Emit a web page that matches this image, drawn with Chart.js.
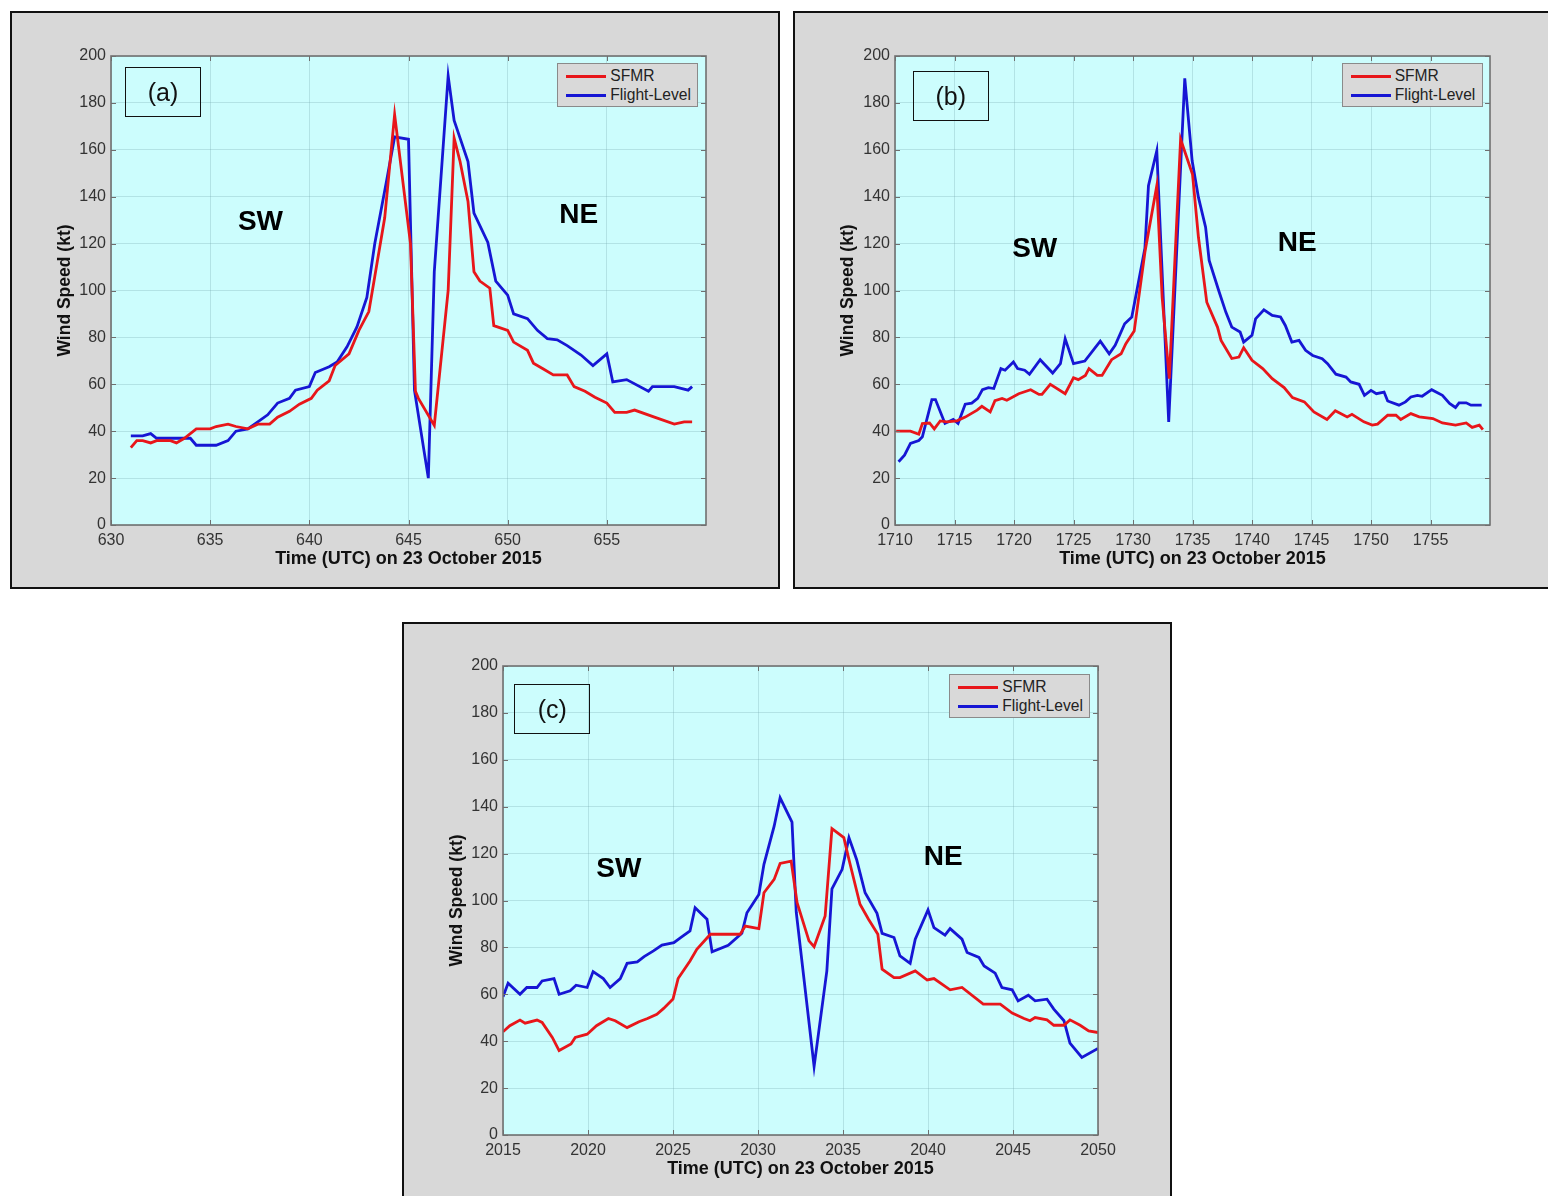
<!DOCTYPE html>
<html><head><meta charset="utf-8">
<script src="https://cdn.jsdelivr.net/npm/chart.js@4.4.1/dist/chart.umd.min.js"></script>
<style>
html,body{margin:0;padding:0;background:#fff;width:1548px;height:1196px;overflow:hidden;font-family:"Liberation Sans",Arial,Helvetica,sans-serif}
.frame{position:absolute;width:770px;height:578px;background:#d8d8d8;border:2px solid #111;box-sizing:border-box}
.cw{position:absolute;width:770px;height:578px}
.tag{position:absolute;border:1px solid #111;width:76px;height:50px;box-sizing:border-box;font-size:25px;text-align:center;line-height:48px;color:#111;z-index:5}
.dir{position:absolute;font-weight:bold;font-size:28px;color:#000;transform:translate(-50%,-50%);z-index:5;white-space:nowrap}
.leg{position:absolute;width:141px;height:44px;background:#d9d9d9;border:1px solid #8a8a8a;box-sizing:border-box;font-size:15.6px;color:#222;z-index:5}
.leg span{position:absolute;left:52px;line-height:18px;white-space:nowrap}
.leg i{position:absolute;left:8px;width:40px;height:3px}
</style></head>
<body>
<script>
// ---------- data ----------
const yTicks = [0,20,40,60,80,100,120,140,160,180,200];
const aXTicks = [630,635,640,645,650,655];
const bXTicks = [1710,1715,1720,1725,1730,1735,1740,1745,1750,1755];
const cXTicks = [2015,2020,2025,2030,2035,2040,2045,2050];

const aSfmrT = [631.0,631.3,631.6,632.0,632.3,633.0,633.3,633.7,634.3,635.0,635.3,635.9,636.3,636.9,637.4,638.0,638.4,639.0,639.5,640.1,640.4,641.0,641.3,642.0,642.5,643.0,643.3,643.8,644.3,645.1,645.35,645.5,646.3,647.0,647.3,647.6,648.0,648.3,648.6,649.1,649.3,650.0,650.3,651.0,651.3,651.8,652.3,653.0,653.35,653.9,654.4,655.0,655.4,656.0,656.4,657.4,658.4,658.9,659.3];
const aSfmrV = [33,36,36,35,36,36,35,37,41,41,42,43,42,41,43,43,46,48.5,51.5,54,57.5,61.5,68,73,83,91,106,131,175,120,57,54,42.5,100,165,155,138,108,104,101,85,83,78,74.5,69,66.5,64,64,59,57,54.5,52,48,48,49,46,43,44,44];
const aFlT = [631.0,631.6,632.0,632.3,634.0,634.3,635.3,635.9,636.3,636.9,637.4,637.9,638.4,639.0,639.3,640.0,640.3,641.0,641.4,641.9,642.4,642.9,643.3,643.9,644.3,645.0,645.3,646.0,646.3,647.0,647.3,648.0,648.3,649.0,649.4,650.0,650.3,651.0,651.5,652.0,652.5,653.0,653.7,654.3,655.0,655.3,656.0,657.1,657.3,658.4,659.1,659.3];
const aFlV = [38,38,39,37,37,34,34,36,40,41,44,47,52,54,57.5,59,65,67.5,69.5,76,84.5,97,120,147,165.5,164.5,57.5,20,108,191.5,172.5,155,133,120.5,104,98,90,88,83,79.5,79,76.5,72.5,68,73,61,62,57,59,59,57.5,59];

const bSfmrT = [1710.1,1711.3,1712.0,1712.3,1712.9,1713.3,1713.8,1714.35,1715.2,1715.9,1716.9,1717.3,1718.0,1718.4,1719.0,1719.4,1720.4,1721.4,1722.1,1722.35,1723.05,1724.3,1725.0,1725.4,1726.0,1726.3,1727.0,1727.4,1728.2,1729.0,1729.4,1730.1,1731.0,1732.0,1732.45,1733.05,1734.0,1735.0,1735.5,1736.2,1737.1,1737.4,1738.3,1738.9,1739.3,1740.0,1740.9,1741.7,1742.7,1743.4,1744.4,1745.2,1746.3,1747.0,1748.0,1748.4,1749.4,1750.1,1750.55,1751.4,1752.1,1752.5,1753.35,1754.05,1755.2,1756.0,1757.1,1758.0,1758.5,1759.1,1759.4];
const bSfmrV = [40,40,38.7,43.3,43.5,41,44.4,44,44.4,46,49,50.6,48.2,53,54,53.2,56,57.7,55.7,55.7,60,56,62.8,62,63.8,66.7,63.8,63.8,70.5,73,77.3,82.7,116.3,144.7,97,62.4,164.5,149.6,122.7,95,84.4,78.7,71,71.6,75.6,70.2,66.7,62.4,58.6,54.3,52.5,48.2,45,48.7,46.1,47.2,44,42.6,43,46.8,46.8,45,47.5,46.1,45.4,43.5,42.6,43.5,41.6,42.6,40.7];
const bFlT = [1710.3,1710.8,1711.3,1712.0,1712.3,1713.1,1713.4,1714.2,1714.9,1715.3,1715.9,1716.45,1716.95,1717.35,1717.85,1718.3,1718.9,1719.25,1719.95,1720.3,1720.9,1721.3,1722.2,1723.25,1723.9,1724.3,1725.0,1725.95,1727.25,1728.0,1728.5,1729.3,1729.9,1731.0,1731.3,1732.0,1733.0,1734.35,1734.97,1735.5,1736.1,1736.4,1737.2,1737.8,1738.3,1739.0,1739.3,1740.0,1740.3,1741.0,1741.7,1742.4,1742.8,1743.35,1743.95,1744.5,1745.1,1745.9,1746.35,1747.05,1747.9,1748.3,1749.0,1749.45,1750.0,1750.45,1751.1,1751.4,1752.35,1752.9,1753.35,1753.9,1754.3,1755.1,1756.0,1756.6,1757.1,1757.4,1758.0,1758.4,1759.3];
const bFlV = [27,29.8,34.8,36,37.6,53.5,53.5,43.3,45,43.3,51.5,52,54,57.7,58.6,58.2,66.7,66,69.5,66.7,66,64.3,70.5,64.8,68.8,79.4,68.8,69.9,78.4,73,76.6,85.8,88.7,118,144.7,159.6,44,190.5,155.3,139.7,127,112.8,100,90.8,84.4,82.3,78,80.9,87.9,91.8,89.4,88.7,85.1,78,78.7,74.5,72.3,70.9,68.8,64.3,63.1,61,60,55.3,57.4,56,56.7,52.9,51.1,52.5,54.6,55.3,54.9,57.7,55.3,51.8,50.1,52.1,52.1,51.1,51.1];

const cSfmrT = [2015.0,2015.4,2016.0,2016.3,2017.0,2017.3,2017.9,2018.3,2019.0,2019.25,2019.95,2020.5,2021.2,2021.6,2022.3,2023.0,2023.5,2024.05,2024.45,2025.0,2025.3,2026.0,2026.4,2027.2,2028.95,2029.25,2030.05,2030.35,2030.95,2031.3,2031.95,2032.3,2033.0,2033.3,2033.95,2034.35,2035.05,2035.35,2036.0,2036.5,2037.05,2037.3,2038.0,2038.35,2039.25,2039.95,2040.35,2041.3,2042.0,2043.25,2044.25,2044.95,2045.65,2046.0,2046.3,2047.0,2047.4,2048.0,2048.35,2048.95,2049.45,2050.0];
const cSfmrV = [44,46.6,49,47.7,49,48,41.6,36,38.8,41.6,43,46.6,49.7,48.7,45.8,48.3,49.7,51.5,54,58,66.7,74.2,79.2,85.6,85.6,89.1,88,103.3,109,115.8,116.8,99.1,82.8,80.3,93.4,130.6,126.8,117.5,98.4,92,85.6,70.7,67.1,67.1,70,66.1,66.7,61.9,62.9,55.8,55.8,52,49.7,48.7,50.1,49.1,46.8,46.8,49.1,46.8,44.4,43.7];
const cFlT = [2015.0,2015.3,2016.0,2016.4,2017.0,2017.3,2018.0,2018.3,2018.95,2019.3,2019.95,2020.3,2020.9,2021.3,2021.9,2022.3,2022.9,2023.3,2023.85,2024.35,2025.05,2025.45,2026.0,2026.3,2027.0,2027.3,2028.25,2029.05,2029.35,2030.05,2030.35,2030.95,2031.3,2032.0,2032.25,2033.3,2034.05,2034.35,2034.95,2035.35,2035.8,2036.3,2037.0,2037.3,2038.0,2038.35,2038.95,2039.25,2040.0,2040.35,2041.0,2041.3,2042.0,2042.3,2043.0,2043.3,2043.95,2044.35,2044.95,2045.3,2045.9,2046.3,2047.0,2047.4,2048.0,2048.35,2049.05,2050.0];
const cFlV = [59,64.7,60,62.9,62.9,65.7,66.7,60,61.5,63.9,62.9,69.7,66.7,62.9,66.7,73.2,73.8,76.1,78.5,81,82,84.2,87,96.9,92,78.1,80.9,86,94.8,102.6,115.4,131.7,143.8,133.4,95,29.2,70,105,113.3,126.8,117.5,103.3,94.5,86,84.2,76.4,73.2,83.5,96,88.4,85.2,88,83.5,77.8,75.7,72.1,69,62.9,61.9,57.2,59.6,57.2,57.9,53.7,48.7,39.2,33.1,36.9];

// ---------- layout / styling ----------
const FONT = '"Liberation Sans", Arial, Helvetica, sans-serif';
const RED = 'rgb(232,22,26)';
const BLUE = 'rgb(22,22,212)';
const GRID = 'rgba(110,160,170,0.28)';
const W = 770, H = 578, PW = 595, PH = 469, XH = 64;

const panels = [
  {label:'(a)', left:10, top:11, padL:101, padT:45, xMin:630, xMax:660, xTicks:aXTicks, sT:aSfmrT, sV:aSfmrV, fT:aFlT, fV:aFlV,
   tag:[125,66.7], sw:[260.5,221], ne:[578.8,213.7], leg:[557.3,63.3]},
  {label:'(b)', left:793, top:11, padL:102, padT:45, xMin:1710, xMax:1760, xTicks:bXTicks, sT:bSfmrT, sV:bSfmrV, fT:bFlT, fV:bFlV,
   tag:[912.7,70.7], sw:[1034.7,247.5], ne:[1297.2,241.5], leg:[1341.7,63.3]},
  {label:'(c)', left:402, top:622, padL:101, padT:44, xMin:2015, xMax:2050, xTicks:cXTicks, sT:cSfmrT, sV:cSfmrV, fT:cFlT, fV:cFlV,
   tag:[514.3,684.3], sw:[618.8,867.5], ne:[943.3,855.8], leg:[949.3,674]}
];

const framePlugin = {
  id: 'plotFrame',
  beforeDraw(chart) {
    const {ctx, chartArea: a} = chart;
    ctx.save();
    ctx.fillStyle = '#ccfdfd';
    ctx.fillRect(a.left, a.top, a.right - a.left, a.bottom - a.top);
    ctx.restore();
  },
  afterDraw(chart) {
    const {ctx, chartArea: a, scales} = chart;
    ctx.save();
    ctx.strokeStyle = '#6f6f6f';
    ctx.lineWidth = 1;
    const L = 5;
    ctx.beginPath();
    scales.x.ticks.forEach(t => {
      const px = Math.round(scales.x.getPixelForValue(t.value)) + 0.5;
      ctx.moveTo(px, a.bottom); ctx.lineTo(px, a.bottom - L);
      ctx.moveTo(px, a.top); ctx.lineTo(px, a.top + L);
    });
    scales.y.ticks.forEach(t => {
      const py = Math.round(scales.y.getPixelForValue(t.value)) + 0.5;
      ctx.moveTo(a.left, py); ctx.lineTo(a.left + L, py);
      ctx.moveTo(a.right, py); ctx.lineTo(a.right - L, py);
    });
    ctx.stroke();
    ctx.strokeStyle = '#707070';
    ctx.lineWidth = 1.6;
    ctx.strokeRect(a.left, a.top, a.right - a.left, a.bottom - a.top);
    ctx.restore();
  }
};

function zip(t, v) { return t.map((x, i) => ({x: x, y: v[i]})); }

panels.forEach(p => {
  const fr = document.createElement('div');
  fr.className = 'frame';
  fr.style.left = p.left + 'px'; fr.style.top = p.top + 'px';
  document.body.appendChild(fr);

  const cw = document.createElement('div');
  cw.className = 'cw';
  cw.style.left = p.left + 'px'; cw.style.top = p.top + 'px';
  const cv = document.createElement('canvas');
  cw.appendChild(cv);
  document.body.appendChild(cw);

  const tag = document.createElement('div');
  tag.className = 'tag'; tag.textContent = p.label;
  tag.style.left = p.tag[0] + 'px'; tag.style.top = p.tag[1] + 'px';
  document.body.appendChild(tag);

  [['SW', p.sw], ['NE', p.ne]].forEach(([txt, pos]) => {
    const d = document.createElement('div');
    d.className = 'dir'; d.textContent = txt;
    d.style.left = pos[0] + 'px'; d.style.top = pos[1] + 'px';
    document.body.appendChild(d);
  });

  const lg = document.createElement('div');
  lg.className = 'leg';
  lg.style.left = p.leg[0] + 'px'; lg.style.top = p.leg[1] + 'px';
  lg.innerHTML = '<i style="top:10.5px;background:' + RED + '"></i><span style="top:2.5px">SFMR</span>' +
                 '<i style="top:29.8px;background:' + BLUE + '"></i><span style="top:21.8px">Flight-Level</span>';
  document.body.appendChild(lg);

  new Chart(cv, {
    type: 'line',
    data: {
      datasets: [
        {label: 'SFMR', data: zip(p.sT, p.sV), borderColor: RED, backgroundColor: RED, borderWidth: 2.8, pointRadius: 0, tension: 0, fill: false},
        {label: 'Flight-Level', data: zip(p.fT, p.fV), borderColor: BLUE, backgroundColor: BLUE, borderWidth: 2.8, pointRadius: 0, tension: 0, fill: false}
      ]
    },
    options: {
      responsive: true, maintainAspectRatio: false, animation: false,
      layout: {padding: {left: 0, top: p.padT, right: W - p.padL - PW, bottom: H - p.padT - PH - XH}},
      plugins: {legend: {display: false}, tooltip: {enabled: false}},
      scales: {
        x: {
          type: 'linear', min: p.xMin, max: p.xMax,
          afterBuildTicks: s => { s.ticks = p.xTicks.map(v => ({value: v})); },
          afterFit: s => { s.height = XH; },
          ticks: {padding: 6, color: '#333', font: {size: 16, family: FONT}, maxRotation: 0, autoSkip: false, callback: v => String(v)},
          grid: {color: GRID, drawTicks: false, lineWidth: 1},
          border: {display: false},
          title: {display: true, text: 'Time (UTC) on 23 October 2015', color: '#111',
                  font: {size: 18, weight: 'bold', family: FONT, lineHeight: 1.2}, padding: {top: 0, bottom: 19.2}}
        },
        y: {
          type: 'linear', min: 0, max: 200,
          afterBuildTicks: s => { s.ticks = yTicks.map(v => ({value: v})); },
          afterFit: s => { s.width = p.padL; },
          ticks: {padding: 5, color: '#333', font: {size: 16, family: FONT}, callback: v => String(v)},
          grid: {color: GRID, drawTicks: false, lineWidth: 1},
          border: {display: false},
          title: {display: true, text: 'Wind Speed (kt)', color: '#111',
                  font: {size: 17.5, weight: 'bold', family: FONT, lineHeight: 1.2}, padding: {top: 44.5, bottom: 0}}
        }
      }
    },
    plugins: [framePlugin]
  });
});
</script>
</body></html>
